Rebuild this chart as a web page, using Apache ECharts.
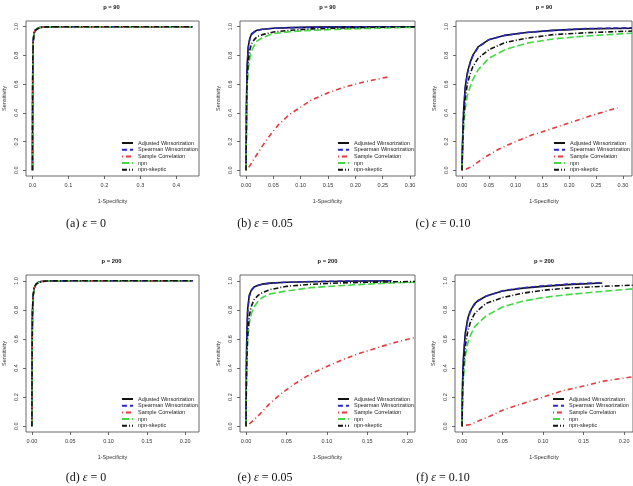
<!DOCTYPE html>
<html>
<head>
<meta charset="utf-8">
<script src="https://cdn.jsdelivr.net/npm/echarts@6/dist/echarts.min.js"></script>
<style>
html, body { margin: 0; background: #fff; }
#chart { width: 633px; height: 486px; }
</style>
</head>
<body>
<div id="chart"></div>
<script>
const NAMES = ['Adjusted Winsorization', 'Spearman Winsorization', 'Sample Correlation', 'npn', 'npn-skeptic']

const yTicks = [0, 0.2, 0.4, 0.6, 0.8, 1.0]
const ticksA = [0, 0.1, 0.2, 0.3, 0.4]
const ticksBC = [0, 0.05, 0.1, 0.15, 0.2, 0.25, 0.3]
const ticksDEF = [0, 0.05, 0.1, 0.15, 0.2]

// (a) p = 90, eps = 0
const fprA = [0, 0.0005, 0.001, 0.002, 0.004, 0.007, 0.012, 0.02, 0.04, 0.1, 0.2, 0.3, 0.445]
const awA = [0, 0.55, 0.78, 0.9, 0.95, 0.975, 0.988, 0.995, 0.999, 1, 1, 1, 1]
const swA = [0, 0.54, 0.77, 0.9, 0.95, 0.974, 0.988, 0.995, 0.999, 1, 1, 1, 1]
const scA = [0, 0.53, 0.77, 0.89, 0.948, 0.973, 0.987, 0.995, 0.999, 1, 1, 1, 1]
const npnA = [0, 0.52, 0.76, 0.89, 0.947, 0.973, 0.987, 0.994, 0.999, 1, 1, 1, 1]
const skA = [0, 0.53, 0.77, 0.89, 0.948, 0.974, 0.987, 0.995, 0.999, 1, 1, 1, 1]

// (b) p = 90, eps = 0.05
const fprB = [0, 0.001, 0.002, 0.004, 0.007, 0.01, 0.015, 0.02, 0.03, 0.05, 0.08, 0.12, 0.18, 0.25, 0.309]
const awB = [0, 0.5, 0.72, 0.86, 0.92, 0.95, 0.965, 0.975, 0.983, 0.99, 0.994, 0.997, 0.999, 1, 1]
const swB = [0, 0.48, 0.7, 0.85, 0.915, 0.945, 0.962, 0.973, 0.982, 0.989, 0.993, 0.996, 0.998, 1, 1]
const npnB = [0, 0.42, 0.58, 0.7, 0.78, 0.83, 0.87, 0.9, 0.925, 0.952, 0.965, 0.975, 0.984, 0.991, 0.996]
const skB = [0, 0.45, 0.62, 0.76, 0.84, 0.88, 0.91, 0.93, 0.945, 0.963, 0.975, 0.985, 0.992, 0.997, 1]
const fprBsc = [0, 0.005, 0.015, 0.03, 0.045, 0.06, 0.08, 0.1, 0.12, 0.15, 0.18, 0.21, 0.24, 0.26]
const scB = [0, 0.02, 0.08, 0.17, 0.25, 0.32, 0.39, 0.44, 0.49, 0.54, 0.58, 0.61, 0.635, 0.65]

// (c) p = 90, eps = 0.10
const fprC = [0, 0.001, 0.003, 0.006, 0.01, 0.015, 0.02, 0.03, 0.05, 0.08, 0.12, 0.17, 0.23, 0.317]
const awC = [0, 0.2, 0.42, 0.58, 0.68, 0.75, 0.8, 0.86, 0.91, 0.94, 0.96, 0.975, 0.985, 0.99]
const swC = [0, 0.18, 0.4, 0.57, 0.67, 0.745, 0.795, 0.855, 0.91, 0.94, 0.96, 0.975, 0.987, 0.993]
const npnC = [0, 0.12, 0.3, 0.43, 0.52, 0.58, 0.63, 0.7, 0.78, 0.84, 0.885, 0.915, 0.935, 0.955]
const skC = [0, 0.15, 0.35, 0.5, 0.6, 0.67, 0.72, 0.78, 0.84, 0.89, 0.92, 0.945, 0.958, 0.97]
const fprCsc = [0, 0.005, 0.02, 0.04, 0.07, 0.1, 0.13, 0.16, 0.2, 0.24, 0.29]
const scC = [0, 0.003, 0.03, 0.085, 0.15, 0.2, 0.245, 0.28, 0.33, 0.38, 0.435]

// (d) p = 200, eps = 0
const fprD = [0, 0.0003, 0.0007, 0.0015, 0.003, 0.005, 0.008, 0.012, 0.02, 0.05, 0.1, 0.15, 0.21]
const awD = [0, 0.55, 0.78, 0.9, 0.95, 0.975, 0.988, 0.995, 0.999, 1, 1, 1, 1]
const swD = [0, 0.54, 0.77, 0.9, 0.95, 0.974, 0.988, 0.995, 0.999, 1, 1, 1, 1]
const scD = [0, 0.53, 0.77, 0.89, 0.948, 0.973, 0.987, 0.995, 0.999, 1, 1, 1, 1]
const npnD = [0, 0.52, 0.76, 0.89, 0.947, 0.973, 0.987, 0.994, 0.999, 1, 1, 1, 1]
const skD = [0, 0.53, 0.77, 0.89, 0.948, 0.974, 0.987, 0.995, 0.999, 1, 1, 1, 1]

// (e) p = 200, eps = 0.05
const fprE = [0, 0.0005, 0.001, 0.002, 0.004, 0.007, 0.01, 0.015, 0.02, 0.03, 0.05, 0.08, 0.12, 0.15, 0.18, 0.209]
const awE = [0, 0.42, 0.62, 0.8, 0.9, 0.94, 0.957, 0.97, 0.977, 0.984, 0.99, 0.994, 0.997, 0.999, 1.0]
const swE = [0, 0.4, 0.6, 0.78, 0.89, 0.935, 0.955, 0.968, 0.976, 0.984, 0.99, 0.995, 0.998, 1.0, 1.0]
const npnE = [0, 0.28, 0.42, 0.58, 0.71, 0.78, 0.82, 0.86, 0.885, 0.91, 0.93, 0.953, 0.968, 0.977, 0.985, 0.99]
const skE = [0, 0.3, 0.45, 0.62, 0.76, 0.83, 0.87, 0.9, 0.918, 0.94, 0.962, 0.976, 0.986, 0.99, 0.993, 0.995]
const fprEsc = [0, 0.005, 0.015, 0.03, 0.045, 0.06, 0.08, 0.1, 0.12, 0.14, 0.16, 0.18, 0.209]
const scE = [0, 0.02, 0.07, 0.16, 0.23, 0.29, 0.36, 0.41, 0.46, 0.5, 0.535, 0.57, 0.61]

// (f) p = 200, eps = 0.10
const fprF = [0, 0.0005, 0.001, 0.002, 0.004, 0.007, 0.01, 0.015, 0.02, 0.03, 0.05, 0.075, 0.1, 0.13, 0.173, 0.211]
const awF = [0, 0.25, 0.38, 0.5, 0.64, 0.74, 0.79, 0.84, 0.865, 0.895, 0.93, 0.95, 0.962, 0.974, 0.985]
const swF = [0, 0.23, 0.36, 0.48, 0.62, 0.73, 0.785, 0.835, 0.862, 0.895, 0.932, 0.952, 0.965, 0.977, 0.987]
const npnF = [0, 0.15, 0.24, 0.35, 0.48, 0.57, 0.62, 0.68, 0.71, 0.76, 0.82, 0.86, 0.885, 0.905, 0.927, 0.945]
const skF = [0, 0.2, 0.3, 0.42, 0.55, 0.65, 0.71, 0.77, 0.8, 0.845, 0.885, 0.915, 0.935, 0.95, 0.962, 0.97]
const fprFsc = [0, 0.01, 0.02, 0.035, 0.05, 0.075, 0.1, 0.125, 0.15, 0.175, 0.211]
const scF = [0, 0.012, 0.035, 0.07, 0.11, 0.156, 0.2, 0.245, 0.276, 0.31, 0.34]

const LINE_STYLES = {
  'Adjusted Winsorization': { color: '#111111', type: 'solid' },
  'Spearman Winsorization': { color: '#2a2acc', type: [5, 3] },
  'Sample Correlation': { color: '#e23b3b', type: [1, 3, 5, 3] },
  'npn': { color: '#44d844', type: [7, 3] },
  'npn-skeptic': { color: '#111111', type: [5, 2, 1, 2] },
}

const panels = [
  { box: { left: 24, top: 21, width: 175, height: 155 }, title: 'p = 90', caption: '(a) {i|ε} = 0', capX: 86, capY: 224,
    xMin: -0.018, xMax: 0.463, ticks: ticksA, dec: 1,
    curves: [[fprA, awA], [fprA, swA], [fprA, scA], [fprA, npnA], [fprA, skA]] },
  { box: { left: 240, top: 21, width: 175, height: 155 }, title: 'p = 90', caption: '(b) {i|ε} = 0.05', capX: 265, capY: 224,
    xMin: -0.011, xMax: 0.309, ticks: ticksBC, dec: 2,
    curves: [[fprB, awB], [fprB, swB], [fprBsc, scB], [fprB, npnB], [fprB, skB]] },
  { box: { left: 456, top: 21, width: 176, height: 155 }, title: 'p = 90', caption: '(c) {i|ε} = 0.10', capX: 443, capY: 224,
    xMin: -0.0112, xMax: 0.317, ticks: ticksBC, dec: 2,
    curves: [[fprC, awC], [fprC, swC], [fprCsc, scC], [fprC, npnC], [fprC, skC]] },
  { box: { left: 24, top: 275, width: 175, height: 157 }, title: 'p = 200', caption: '(d) {i|ε} = 0', capX: 86, capY: 478,
    xMin: -0.0077, xMax: 0.218, ticks: ticksDEF, dec: 2,
    curves: [[fprD, awD], [fprD, swD], [fprD, scD], [fprD, npnD], [fprD, skD]] },
  { box: { left: 240, top: 275, width: 175, height: 157 }, title: 'p = 200', caption: '(e) {i|ε} = 0.05', capX: 265, capY: 478,
    xMin: -0.0074, xMax: 0.209, ticks: ticksDEF, dec: 2,
    curves: [[fprE, awE], [fprE, swE], [fprEsc, scE], [fprE, npnE], [fprE, skE]] },
  { box: { left: 455, top: 275, width: 178, height: 157 }, title: 'p = 200', caption: '(f) {i|ε} = 0.10', capX: 443, capY: 478,
    xMin: -0.0087, xMax: 0.211, ticks: ticksDEF, dec: 2,
    curves: [[fprF, awF], [fprF, swF], [fprFsc, scF], [fprF, npnF], [fprF, skF]] },
]

const FONT = 'Liberation Sans, Arial, sans-serif'
const SERIF = 'Liberation Serif, Times New Roman, serif'
const small = { fontFamily: FONT, fontSize: 5.5, color: '#333' }

function pairs(xs, ys) {
  return ys.map((y, i) => [xs[i], y])
}

const grid = []
const xAxis = []
const yAxis = []
const series = []
const legend = []
const graphic = []

panels.forEach((p, gi) => {
  grid.push({ ...p.box, show: true, borderColor: '#444', borderWidth: 0.8, backgroundColor: 'transparent' })

  xAxis.push({
    type: 'value', gridIndex: gi, min: p.xMin, max: p.xMax,
    name: '1-Specificity', nameLocation: 'middle', nameGap: 22, nameTextStyle: small,
    axisLine: { show: false, onZero: false },
    axisTick: { show: true, length: 3, lineStyle: { color: '#444', width: 0.8 }, customValues: p.ticks },
    axisLabel: { ...small, margin: 6.5, customValues: p.ticks, formatter: (v) => v.toFixed(p.dec) },
    splitLine: { show: false },
  })

  yAxis.push({
    type: 'value', gridIndex: gi, min: -0.04, max: 1.04,
    name: 'Sensitivity', nameLocation: 'middle', nameGap: 19, nameRotate: 90, nameTextStyle: small,
    axisLine: { show: false, onZero: false },
    axisTick: { show: true, length: 3, lineStyle: { color: '#444', width: 0.8 }, customValues: yTicks },
    axisLabel: { ...small, margin: 7, rotate: 90, customValues: yTicks, formatter: (v) => v.toFixed(1) },
    splitLine: { show: false },
  })

  p.curves.forEach(([xs, ys], si) => {
    const name = NAMES[si]
    const st = LINE_STYLES[name]
    series.push({
      name, type: 'line', xAxisIndex: gi, yAxisIndex: gi,
      data: pairs(xs, ys),
      showSymbol: false, symbol: 'none', smooth: false, animation: false,
      lineStyle: { color: st.color, width: 1.6, type: st.type },
      itemStyle: { color: st.color },
    })
  })

  legend.push({
    data: NAMES, orient: 'vertical', selectedMode: false,
    left: p.box.left + 97, top: p.box.top + p.box.height - 36,
    padding: 0, itemWidth: 11, itemHeight: 6, itemGap: 0.7,
    itemStyle: { opacity: 0 },
    textStyle: { fontFamily: FONT, fontSize: 5.5, color: '#222', lineHeight: 6 },
  })

  graphic.push({
    type: 'text', x: p.box.left + p.box.width / 2, y: p.box.top - 14,
    style: { text: p.title, fontFamily: FONT, fontSize: 5.8, fontWeight: 'bold', fill: '#111', align: 'center', verticalAlign: 'middle' },
  })
  graphic.push({
    type: 'text', x: p.capX, y: p.capY,
    style: {
      text: p.caption, fontFamily: SERIF, fontSize: 12, fill: '#111', align: 'center', verticalAlign: 'middle',
      rich: { i: { fontFamily: SERIF, fontSize: 12, fontStyle: 'italic', fill: '#111' } },
    },
  })
})

const chart = echarts.init(document.getElementById('chart'), null, { renderer: 'canvas' })
chart.setOption({ animation: false, grid, xAxis, yAxis, series, legend, graphic })
</script>
</body>
</html>
